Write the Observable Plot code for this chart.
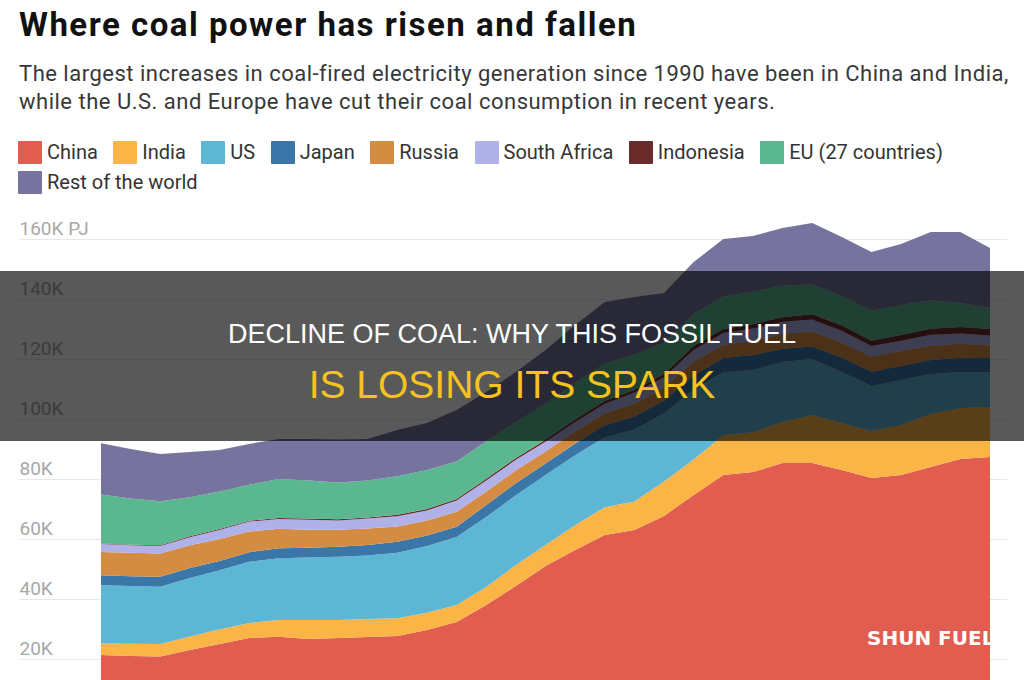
<!DOCTYPE html>
<html><head><meta charset="utf-8">
<script src="https://cdn.jsdelivr.net/npm/d3@7"></script>
<script src="https://cdn.jsdelivr.net/npm/@observablehq/plot@0.6"></script>
<style>
html,body{margin:0;padding:0;width:1024px;height:680px;overflow:hidden;background:#fff;font-family:Roboto,"Noto Sans",sans-serif;}
#title{position:absolute;left:19px;top:8px;font-size:33px;line-height:33px;letter-spacing:1.5px;font-weight:700;color:#111;white-space:nowrap;}
#subtitle{position:absolute;left:19px;top:60px;font-size:22px;line-height:28px;letter-spacing:0.5px;color:#383838;white-space:nowrap;}
#legend{position:absolute;left:18px;top:140px;width:1000px;display:flex;flex-wrap:wrap;column-gap:15.5px;row-gap:6px;}
.item{display:flex;align-items:center;height:24px;font-size:20px;line-height:24px;color:#333;white-space:nowrap;}
.sw{width:24px;height:23px;margin-right:5px;border-radius:1px;}
#chart{position:absolute;left:0;top:200px;}
#banner{position:absolute;left:0;top:271px;width:1024px;height:170px;background:rgba(0,0,0,0.65);}
.bl{position:absolute;left:0;width:1024px;text-align:center;font-family:"Liberation Sans",Arial,sans-serif;white-space:nowrap;}
#b1{top:50px;font-size:27px;line-height:27px;color:#fff;}
#b2{top:94px;font-size:39px;line-height:39px;color:#f6c31e;}
#wm{position:absolute;left:867px;top:628px;font-family:"DejaVu Sans",sans-serif;font-weight:700;font-size:20px;line-height:20px;color:#fff;white-space:nowrap;}
</style></head><body>
<div id="title">Where coal power has risen and fallen</div>
<div id="subtitle">The largest increases in coal-fired electricity generation since 1990 have been in China and India,<br>while the U.S. and Europe have cut their coal consumption in recent years.</div>
<div id="legend"></div>
<div id="chart"></div>
<div id="banner"><div class="bl" id="b1">DECLINE OF COAL: WHY THIS FOSSIL FUEL</div><div class="bl" id="b2">IS LOSING ITS SPARK</div></div>
<div id="wm">SHUN FUEL</div>
<script>
const years = d3.range(1990, 2021);
const seriesNames = ["China","India","US","Japan","Russia","South Africa","Indonesia","EU (27 countries)","Rest of the world"];
const seriesColors = ["#e05d50","#fbb547","#5db6d4","#3a77a8","#d38c42","#b0b1e8","#6a2b2b","#5bb790","#77739f"];
// values in thousand PJ, 1990..2020
const china = [21.3,21.0,20.8,23.0,25.0,27.0,27.4,26.7,27.0,27.3,27.7,29.7,32.3,38.0,44.3,51.0,56.3,61.3,63.0,67.7,74.7,81.3,82.3,85.3,85.3,83.0,80.3,81.3,84.0,86.7,87.3];
const india = [3.9,4.1,4.2,4.5,4.8,5.0,5.6,6.3,6.0,6.0,5.9,5.7,5.7,6.0,7.0,7.0,8.3,9.3,9.5,11.5,11.8,13.3,13.3,13.7,16.0,15.7,15.7,16.7,17.7,17.0,16.7];
const us = [19.4,19.2,19.1,19.5,19.8,20.4,20.6,20.8,21.1,21.2,21.8,22.3,22.7,23.3,23.3,23.3,23.3,23.3,24.0,22.7,23.3,21.0,20.7,20.0,18.7,17.0,15.0,15.0,13.3,12.0,11.5];
const japan = [3.3,3.3,3.3,3.3,3.1,3.2,3.3,3.3,3.3,3.5,3.7,3.5,3.4,4.0,4.0,3.9,3.9,4.0,4.3,4.3,4.7,4.7,5.0,4.4,4.2,4.7,4.8,4.7,4.7,4.7,4.8];
const russia = [7.8,7.8,7.8,7.6,7.3,6.9,6.5,6.0,5.7,5.5,5.1,5.0,5.0,4.5,4.3,4.0,4.0,4.0,4.3,4.3,4.6,4.4,4.7,5.0,5.0,5.0,5.0,5.0,4.7,4.7,4.2];
const southAfrica = [2.6,2.5,2.5,2.7,3.0,3.3,3.3,3.3,3.1,3.3,3.4,3.3,3.7,3.7,3.5,3.2,3.2,3.2,3.7,3.4,4.0,4.0,4.2,4.0,4.0,4.0,3.5,3.4,3.7,3.4,3.3];
const indonesia = [0.2,0.2,0.2,0.3,0.3,0.3,0.3,0.4,0.4,0.4,0.5,0.5,0.5,0.6,0.6,0.7,0.8,0.9,0.9,1.0,1.2,1.3,1.4,1.5,1.7,1.8,1.8,1.9,2.0,2.2,2.2];
const eu = [16.3,15.4,14.7,13.0,12.5,12.0,13.0,12.7,12.2,12.3,12.8,13.0,12.5,12.5,12.0,12.0,12.3,12.5,11.8,10.5,10.8,10.8,10.8,10.5,10.0,9.8,10.0,10.0,9.5,8.0,7.0];
const rest = [17.1,16.5,15.7,15.1,13.9,13.6,13.3,13.8,14.4,13.8,15.4,15.7,17.2,16.4,16.7,17.9,19.2,20.5,19.2,16.6,17.2,19.2,18.6,19.3,20.4,19.7,19.6,20.3,22.7,23.6,20.0];
const yTickValues = [20000,40000,60000,80000,100000,120000,140000,160000];
const yTickLabels = ["20K","40K","60K","80K","100K","120K","140K","160K PJ"];

const seriesValues = [china,india,us,japan,russia,southAfrica,indonesia,eu,rest];
const data = [];
seriesNames.forEach((name,i)=>{
  years.forEach((yr,j)=>data.push({year:yr, series:name, value:seriesValues[i][j]*1000}));
});

// legend
const lg = document.getElementById("legend");
seriesNames.forEach((n,i)=>{
  const it = document.createElement("div"); it.className="item";
  const sw = document.createElement("div"); sw.className="sw"; sw.style.background=seriesColors[i];
  it.appendChild(sw); it.appendChild(document.createTextNode(n)); lg.appendChild(it);
});

const chart = Plot.plot({
  width:1024, height:519,
  marginTop:9, marginBottom:0, marginLeft:19, marginRight:17,
  style:{fontFamily:"Roboto, sans-serif", background:"transparent"},
  x:{domain:[1990,2020], range:[101,990], axis:null},
  y:{domain:[0,170000], axis:null},
  color:{domain:seriesNames, range:seriesColors},
  marks:[
    Plot.gridY(yTickValues, {stroke:"#e8e8e8", strokeOpacity:1, strokeWidth:1.2}),
    Plot.areaY(data, {x:"year", y:"value", fill:"series", z:"series", order:seriesNames, curve:"linear"}),
    Plot.text(yTickValues, {y:d=>d, text:(d,i)=>yTickLabels[i], frameAnchor:"left", textAnchor:"start", lineAnchor:"bottom", dy:-5, fontSize:19, fill:"#a8a8a8"})
  ]
});
document.getElementById("chart").appendChild(chart);
</script>
</body></html>
